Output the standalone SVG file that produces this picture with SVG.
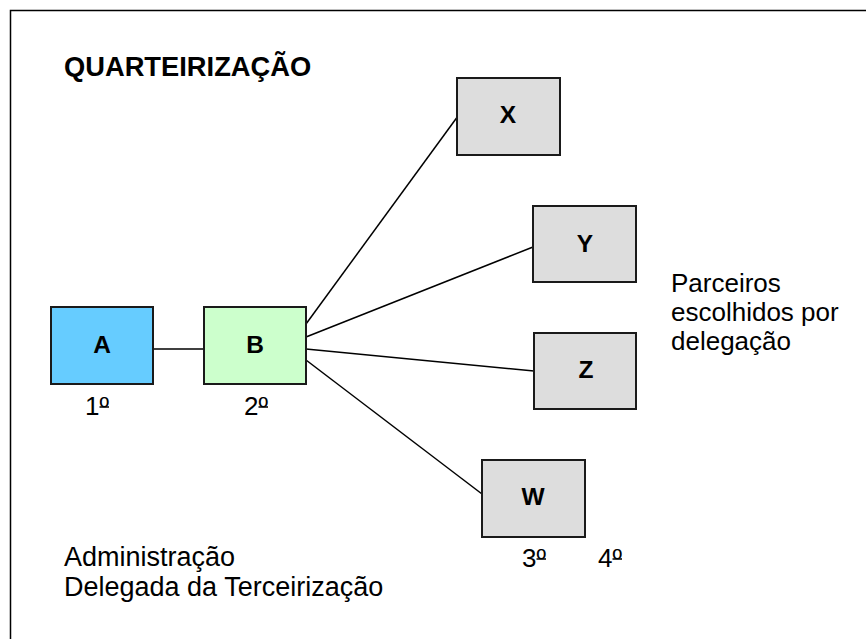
<svg xmlns="http://www.w3.org/2000/svg" width="866" height="639" viewBox="0 0 866 639">
<style>
.box{stroke:#1a1a1a;stroke-width:2}
.lbl{font-family:"Liberation Sans",Arial,sans-serif;font-weight:bold;font-size:24.5px;text-anchor:middle;fill:#000}
.txt{font-family:"Liberation Sans",Arial,sans-serif;font-size:26px;fill:#000}
.conn line{stroke:#000;stroke-width:1.5}
.ul{stroke:#000;stroke-width:1.5}
</style>
<rect x="0" y="0" width="866" height="639" fill="#fff"/>
<rect x="10.5" y="10.5" width="880" height="660" fill="none" stroke="#000" stroke-width="1.5"/>
<text class="txt" x="64" y="76" style="font-weight:bold;font-size:27.3px">QUARTEIRIZAÇÃO</text>
<g id="connectors" class="conn">
<line x1="153" y1="349" x2="203" y2="349"/>
<line x1="306" y1="324" x2="458" y2="116"/>
<line x1="306" y1="337" x2="533" y2="247"/>
<line x1="306" y1="349" x2="534" y2="371"/>
<line x1="306" y1="360" x2="482" y2="494"/>
</g>
<g id="A"><rect class="box" x="51" y="307" width="102" height="77" fill="#66CCFF"/><text class="lbl" x="102" y="353">A</text></g>
<g id="B"><rect class="box" x="204" y="307" width="102" height="77" fill="#CCFFCC"/><text class="lbl" x="255" y="353">B</text></g>
<g id="X"><rect class="box" x="457" y="78" width="103" height="77" fill="#DDDDDD"/><text class="lbl" x="508" y="123">X</text></g>
<g id="Y"><rect class="box" x="533" y="206" width="103" height="76" fill="#DDDDDD"/><text class="lbl" x="585" y="252">Y</text></g>
<g id="Z"><rect class="box" x="534" y="333" width="102" height="76" fill="#DDDDDD"/><text class="lbl" x="586" y="378">Z</text></g>
<g id="W"><rect class="box" x="482" y="460" width="103" height="77" fill="#DDDDDD"/><text class="lbl" x="533" y="505">W</text></g>
<g id="ordinals">
<text class="txt" x="85" y="415">1º</text>
<line class="ul" x1="99.5" y1="407" x2="109" y2="407"/>
<text class="txt" x="244" y="415">2º</text>
<line class="ul" x1="258.5" y1="407" x2="268" y2="407"/>
<text class="txt" x="522" y="567">3º</text>
<line class="ul" x1="536.5" y1="559" x2="546" y2="559"/>
<text class="txt" x="598" y="567">4º</text>
<line class="ul" x1="612.5" y1="559" x2="622" y2="559"/>
</g>
<text class="txt" x="671" y="292">Parceiros</text>
<text class="txt" x="671" y="321">escolhidos por</text>
<text class="txt" x="671" y="350">delegação</text>
<text class="txt" x="64" y="566" style="font-size:27px">Administração</text>
<text class="txt" x="64" y="596" style="font-size:27px">Delegada da Terceirização</text>
</svg>
